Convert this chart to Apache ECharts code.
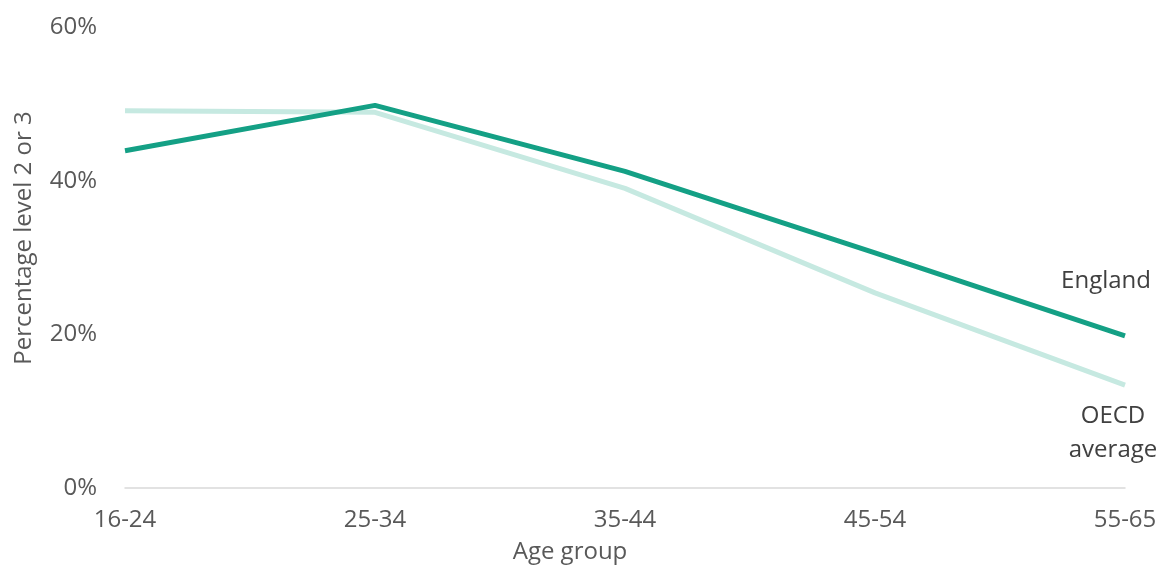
<!DOCTYPE html>
<html>
<head>
<meta charset="utf-8">
<script src="https://cdn.jsdelivr.net/npm/echarts@6/dist/echarts.min.js"></script>
<style>
  html, body { margin: 0; padding: 0; background: #fff; }
  #chart { width: 1162px; height: 567px; }
</style>
</head>
<body>
<div id="chart"></div>
<script>
// Share of adults at proficiency level 2 or 3, by age group
const ageGroups = ['16-24', '25-34', '35-44', '45-54', '55-65'];
const england = [43.9, 49.8, 41.2, 30.6, 19.8];
const oecdAverage = [49.1, 48.9, 39.0, 25.4, 13.4];
const yTicks = [0, 20, 40, 60];

const textColor = '#595959';
const fontFamily = '"Open Sans", "Noto Sans", sans-serif';
const fontSize = 24;

const chart = echarts.init(document.getElementById('chart'));
chart.setOption({
  animation: false,
  textStyle: { fontFamily: fontFamily },
  grid: { left: 125, right: 37, top: 27, bottom: 79 },
  xAxis: {
    type: 'category',
    data: ageGroups,
    boundaryGap: false,
    axisLine: { lineStyle: { color: '#d9d9d9', width: 1.5 } },
    axisTick: { show: false },
    axisLabel: { color: textColor, fontSize: fontSize, margin: 20, fontFamily: fontFamily }
  },
  yAxis: {
    type: 'value',
    min: yTicks[0],
    max: yTicks[yTicks.length - 1],
    interval: 20,
    splitLine: { show: false },
    axisLine: { show: false },
    axisTick: { show: false },
    axisLabel: {
      color: textColor, fontSize: fontSize, margin: 28, fontFamily: fontFamily,
      formatter: v => v + '%'
    }
  },
  series: [
    {
      name: 'OECD average',
      type: 'line',
      data: oecdAverage,
      symbol: 'none',
      lineStyle: { color: '#c6e9e1', width: 5, cap: 'butt' }
    },
    {
      name: 'England',
      type: 'line',
      data: england,
      symbol: 'none',
      lineStyle: { color: '#14a085', width: 5, cap: 'butt' }
    }
  ],
  graphic: [
    {
      type: 'text', x: 24, y: 238, rotation: Math.PI / 2,
      style: {
        text: 'Percentage level 2 or 3', fill: textColor, fontSize: fontSize,
        fontFamily: fontFamily, align: 'center', verticalAlign: 'middle'
      }
    },
    {
      type: 'text', x: 570, y: 552,
      style: {
        text: 'Age group', fill: textColor, fontSize: fontSize,
        fontFamily: fontFamily, align: 'center', verticalAlign: 'middle'
      }
    },
    {
      type: 'text', x: 1151, y: 281,
      style: {
        text: 'England', fill: '#404040', fontSize: fontSize,
        fontFamily: fontFamily, align: 'right', verticalAlign: 'middle'
      }
    },
    {
      type: 'text', x: 1113, y: 433,
      style: {
        text: 'OECD\naverage', fill: '#404040', fontSize: fontSize, lineHeight: 34,
        fontFamily: fontFamily, align: 'center', verticalAlign: 'middle'
      }
    }
  ]
});
</script>
</body>
</html>
